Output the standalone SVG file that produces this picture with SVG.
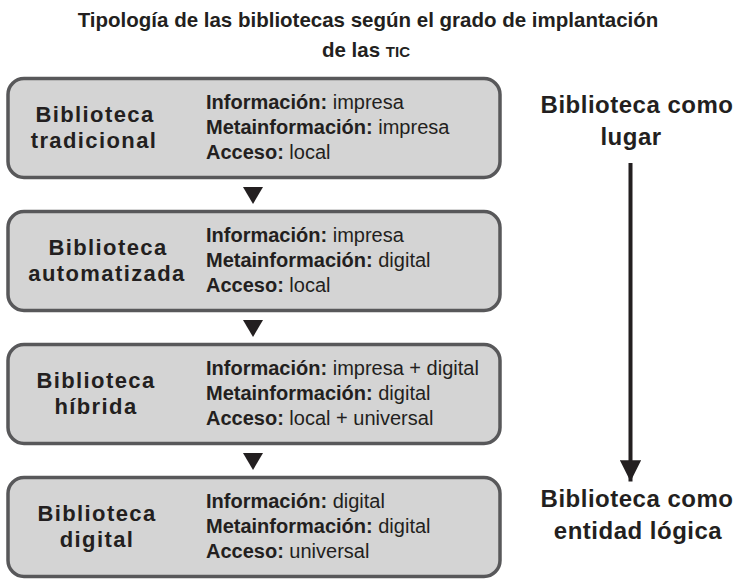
<svg xmlns="http://www.w3.org/2000/svg" width="736" height="579" viewBox="0 0 736 579">
<style>
.box{fill:#d4d4d4;stroke:#58585a;stroke-width:3.5}
.title{font-family:"Liberation Sans",Arial,sans-serif;font-weight:bold;font-size:20.5px;fill:#231f20}
.lbl{font-family:"Liberation Sans",Arial,sans-serif;font-weight:bold;font-size:22px;fill:#231f20;letter-spacing:1.4px;text-anchor:middle}
.info{font-family:"Liberation Sans",Arial,sans-serif;font-size:20px;fill:#231f20}
.info .b{font-weight:bold}
.side{font-family:"Liberation Sans",Arial,sans-serif;font-weight:bold;font-size:24px;fill:#231f20;letter-spacing:0.5px;text-anchor:middle}
.tri{fill:#231f20}
</style>
<defs>
<marker id="ah" viewBox="0 0 10 10" refX="10" refY="5" markerWidth="5.3" markerHeight="5.3" markerUnits="strokeWidth" orient="auto">
<path d="M0,0 L10,5 L0,10 Z" fill="#231f20"/>
</marker>
</defs>
<g id="title">
<text class="title" x="368" y="27" text-anchor="middle">Tipología de las bibliotecas según el grado de implantación</text>
<text class="title" x="366" y="57" text-anchor="middle">de las <tspan font-size="15px">TIC</tspan></text>
</g>
<g id="n1">
<rect class="box" x="8" y="78.5" width="492" height="99" rx="16"/>
<text class="lbl" x="95" y="122">Biblioteca</text>
<text class="lbl" x="94" y="148">tradicional</text>
<text class="info" x="206" y="109"><tspan class="b">Información:</tspan> impresa</text>
<text class="info" x="206" y="134"><tspan class="b">Metainformación:</tspan> impresa</text>
<text class="info" x="206" y="159"><tspan class="b">Acceso:</tspan> local</text>
</g>
<g id="n2">
<rect class="box" x="8" y="211.5" width="492" height="99" rx="16"/>
<text class="lbl" x="108" y="255">Biblioteca</text>
<text class="lbl" x="107" y="281">automatizada</text>
<text class="info" x="206" y="242"><tspan class="b">Información:</tspan> impresa</text>
<text class="info" x="206" y="267"><tspan class="b">Metainformación:</tspan> digital</text>
<text class="info" x="206" y="292"><tspan class="b">Acceso:</tspan> local</text>
</g>
<g id="n3">
<rect class="box" x="8" y="344.5" width="492" height="99" rx="16"/>
<text class="lbl" x="96" y="388">Biblioteca</text>
<text class="lbl" x="96" y="414">híbrida</text>
<text class="info" x="206" y="375"><tspan class="b">Información:</tspan> impresa + digital</text>
<text class="info" x="206" y="400"><tspan class="b">Metainformación:</tspan> digital</text>
<text class="info" x="206" y="425"><tspan class="b">Acceso:</tspan> local + universal</text>
</g>
<g id="n4">
<rect class="box" x="8" y="477.5" width="492" height="99" rx="16"/>
<text class="lbl" x="97" y="521">Biblioteca</text>
<text class="lbl" x="97" y="547">digital</text>
<text class="info" x="206" y="508"><tspan class="b">Información:</tspan> digital</text>
<text class="info" x="206" y="533"><tspan class="b">Metainformación:</tspan> digital</text>
<text class="info" x="206" y="558"><tspan class="b">Acceso:</tspan> universal</text>
</g>
<g id="side-top">
<text class="side" x="637" y="113">Biblioteca como</text>
<text class="side" x="631" y="145">lugar</text>
</g>
<g id="side-bottom">
<text class="side" x="637" y="507">Biblioteca como</text>
<text class="side" x="638" y="539">entidad lógica</text>
</g>
<g id="connectors">
<polygon class="tri" points="243,187 263,187 253,204"/>
<polygon class="tri" points="243,320 263,320 253,337"/>
<polygon class="tri" points="243,453 263,453 253,470"/>
<line x1="630.5" y1="163" x2="630.5" y2="481.5" stroke="#231f20" stroke-width="4" marker-end="url(#ah)"/>
</g>
</svg>
